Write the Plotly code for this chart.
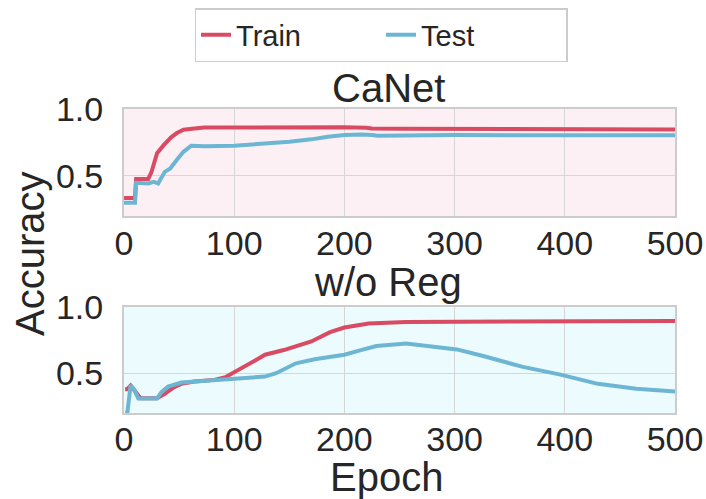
import plotly.graph_objects as go

# CaNet accuracy curves
canet_train_epoch = [0, 10, 11, 22, 25, 30, 36, 43, 48, 54, 64, 73, 100, 130, 160, 175, 180, 190, 200, 220, 225, 250, 300, 400, 500]
canet_train_acc = [0.335, 0.335, 0.476, 0.476, 0.53, 0.67, 0.73, 0.79, 0.82, 0.845, 0.855, 0.862, 0.862, 0.862, 0.863, 0.866, 0.868, 0.866, 0.864, 0.86, 0.855, 0.852, 0.85, 0.848, 0.846]
canet_test_epoch = [0, 10, 11, 22, 27, 31, 37, 42, 48, 54, 61, 73, 100, 128, 150, 170, 185, 200, 215, 225, 230, 300, 400, 500]
canet_test_acc = [0.30, 0.30, 0.448, 0.443, 0.456, 0.443, 0.53, 0.556, 0.62, 0.68, 0.725, 0.722, 0.725, 0.74, 0.755, 0.773, 0.793, 0.805, 0.81, 0.805, 0.80, 0.805, 0.805, 0.803]

# Accuracy curves without regularisation
noreg_train_epoch = [1, 3, 6, 10, 15, 30, 37, 45, 52, 64, 82, 92, 100, 110, 119, 128, 145, 170, 187, 200, 222, 256, 326, 400, 500]
noreg_train_acc = [0.38, 0.38, 0.407, 0.36, 0.311, 0.311, 0.344, 0.394, 0.42, 0.437, 0.45, 0.47, 0.505, 0.553, 0.596, 0.64, 0.675, 0.74, 0.81, 0.845, 0.875, 0.887, 0.89, 0.893, 0.895]
noreg_test_epoch = [1, 3, 6, 9, 13, 30, 34, 40, 52, 82, 100, 128, 138, 156, 173, 200, 215, 229, 256, 274, 302, 326, 361, 396, 430, 465, 500]
noreg_test_acc = [0.2, 0.2, 0.41, 0.38, 0.31, 0.31, 0.357, 0.40, 0.43, 0.45, 0.457, 0.475, 0.5, 0.575, 0.605, 0.64, 0.675, 0.705, 0.725, 0.705, 0.68, 0.63, 0.55, 0.49, 0.42, 0.383, 0.363]

x_ticks = [0, 100, 200, 300, 400, 500]
y_ticks = [0.5, 1.0]

TRAIN_COLOR = "#d94a63"
TEST_COLOR = "#6cb6d4"
TEXT_COLOR = "#262626"
FONT = "Liberation Sans, Arial, sans-serif"
W, H = 706, 499
LW = 4

fig = go.Figure()
fig.add_trace(go.Scatter(x=canet_train_epoch, y=canet_train_acc, mode="lines", name="Train",
                         line=dict(color=TRAIN_COLOR, width=LW), xaxis="x", yaxis="y"))
fig.add_trace(go.Scatter(x=canet_test_epoch, y=canet_test_acc, mode="lines", name="Test",
                         line=dict(color=TEST_COLOR, width=LW), xaxis="x", yaxis="y"))
fig.add_trace(go.Scatter(x=noreg_train_epoch, y=noreg_train_acc, mode="lines", name="Train",
                         showlegend=False, line=dict(color=TRAIN_COLOR, width=LW), xaxis="x2", yaxis="y2"))
fig.add_trace(go.Scatter(x=noreg_test_epoch, y=noreg_test_acc, mode="lines", name="Test",
                         showlegend=False, line=dict(color=TEST_COLOR, width=LW), xaxis="x2", yaxis="y2"))


def px_x(p):
    return p / W


def px_y(p):
    return 1 - p / H


xdom = [px_x(124), px_x(675)]
axis_common = dict(showline=True, linecolor="#cccccc", linewidth=2, mirror=True,
                   showgrid=True, gridcolor="#d6d6d6", gridwidth=1.2, zeroline=False,
                   ticks="", automargin=False,
                   tickfont=dict(size=34, color=TEXT_COLOR, family=FONT))


def label(text, x, y, angle=0):
    return dict(text=text, x=px_x(x), y=px_y(y), xref="paper", yref="paper",
                xanchor="center", yanchor="middle", showarrow=False, textangle=angle,
                font=dict(size=40, color=TEXT_COLOR, family=FONT))


fig.update_layout(
    width=W, height=H,
    margin=dict(l=0, r=0, t=0, b=0, autoexpand=False),
    paper_bgcolor="white",
    font=dict(family=FONT, color=TEXT_COLOR),
    xaxis=dict(domain=xdom, anchor="y", range=[0, 500], tickvals=x_ticks, ticklabelstandoff=-4, **axis_common),
    yaxis=dict(domain=[px_y(216), px_y(109)], anchor="x", range=[0.2, 1.0], tickvals=y_ticks,
               tickformat=".1f", ticklabelstandoff=12, **axis_common),
    xaxis2=dict(domain=xdom, anchor="y2", range=[0, 500], tickvals=x_ticks, ticklabelstandoff=-5, **axis_common),
    yaxis2=dict(domain=[px_y(413), px_y(307)], anchor="x2", range=[0.2, 1.0], tickvals=y_ticks,
                tickformat=".1f", ticklabelstandoff=12, **axis_common),
    showlegend=True,
    legend=dict(orientation="h", xref="container", yref="container",
                x=px_x(381), xanchor="center", y=px_y(8), yanchor="top",
                bordercolor="#cccccc", borderwidth=1.5, bgcolor="white",
                font=dict(size=29, color=TEXT_COLOR, family=FONT),
                entrywidth=140),
    shapes=[
        dict(type="rect", xref="x domain", yref="y domain", x0=0, x1=1, y0=0, y1=1,
             fillcolor="#fcf0f4", line=dict(width=0), layer="below"),
        dict(type="rect", xref="x2 domain", yref="y2 domain", x0=0, x1=1, y0=0, y1=1,
             fillcolor="#ecfbfd", line=dict(width=0), layer="below"),
    ],
    annotations=[
        label("CaNet", 388, 88),
        label("w/o Reg", 388, 282),
        label("Epoch", 386, 477),
        label("Accuracy", 30, 254, -90),
    ],
)

fig.write_html("out.html")
